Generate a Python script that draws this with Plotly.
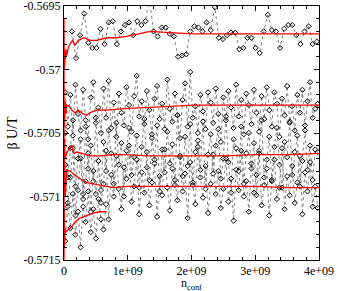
import plotly.graph_objects as go

# ---------------- data ----------------
# x in units of 1e9 configurations
top_x0, top_dx = 0.125, 0.064
top_vals = [-0.56970, -0.56991, -0.56973, -0.56956, -0.56979, -0.56983, -0.56983, -0.56968, -0.56980, -0.56963,
            -0.56962, -0.56980, -0.56970, -0.56965, -0.56963, -0.56973, -0.56962, -0.56965, -0.56962, -0.56945,
            -0.56970, -0.56974, -0.56967, -0.56967, -0.56972, -0.56974, -0.56990, -0.56989, -0.56988, -0.56970,
            -0.56966, -0.56967, -0.56970, -0.56963, -0.56969, -0.56951, -0.56975, -0.56976, -0.56973, -0.56971,
            -0.56971, -0.56984, -0.56983, -0.56975, -0.56975, -0.56983, -0.56987, -0.56970, -0.56957, -0.56969,
            -0.56970, -0.56983, -0.56968, -0.56965, -0.56965, -0.56973, -0.56980, -0.56970, -0.56966, -0.56980,
            -0.56978]

mid_x0, mid_dx = 0.02, 0.04
s2_vals = [-0.57018, -0.57045, -0.57020, -0.57052, -0.57012, -0.57035, -0.57048, -0.57016, -0.57040, -0.57055,
           -0.57022, -0.57010, -0.57042, -0.57030, -0.57050, -0.57015, -0.57038, -0.57009, -0.57046, -0.57026,
           -0.57053, -0.57019, -0.57034, -0.57044, -0.57014, -0.57028, -0.57049, -0.57021, -0.57005, -0.57037,
           -0.57025, -0.57043, -0.57017, -0.57032, -0.57051, -0.57023, -0.57013, -0.57039, -0.57027, -0.57047,
           -0.57008, -0.57031, -0.57041, -0.57019, -0.57036, -0.57054, -0.57024, -0.57011, -0.57045, -0.57002,
           -0.57038, -0.57029, -0.57050, -0.57020, -0.57033, -0.57047, -0.57018, -0.57026, -0.57042, -0.57015,
           -0.57035, -0.57057, -0.57022, -0.57040, -0.57017, -0.57030, -0.57046, -0.57012, -0.57037, -0.57024,
           -0.57051, -0.57019, -0.57028, -0.57043, -0.57016, -0.57034, -0.57049, -0.57021, -0.57039, -0.57014,
           -0.57032, -0.57045, -0.57018, -0.57027, -0.57053, -0.57023, -0.57036, -0.57013, -0.57041, -0.57029,
           -0.57048, -0.57020, -0.57034, -0.57016, -0.57044, -0.57025, -0.57010, -0.57038, -0.57031, -0.57027]
s3_vals = [-0.57050, -0.57085, -0.57062, -0.57040, -0.57092, -0.57070, -0.57055, -0.57098, -0.57045, -0.57078,
           -0.57060, -0.57088, -0.57038, -0.57072, -0.57095, -0.57057, -0.57080, -0.57048, -0.57066, -0.57090,
           -0.57042, -0.57075, -0.57058, -0.57100, -0.57064, -0.57046, -0.57083, -0.57069, -0.57052, -0.57093,
           -0.57061, -0.57039, -0.57077, -0.57087, -0.57054, -0.57071, -0.57044, -0.57096, -0.57063, -0.57081,
           -0.57049, -0.57074, -0.57059, -0.57091, -0.57036, -0.57068, -0.57084, -0.57053, -0.57076, -0.57043,
           -0.57089, -0.57065, -0.57056, -0.57079, -0.57041, -0.57094, -0.57067, -0.57051, -0.57082, -0.57060,
           -0.57047, -0.57086, -0.57070, -0.57037, -0.57073, -0.57097, -0.57055, -0.57062, -0.57080, -0.57045,
           -0.57090, -0.57066, -0.57050, -0.57078, -0.57058, -0.57099, -0.57064, -0.57040, -0.57085, -0.57071,
           -0.57053, -0.57088, -0.57061, -0.57046, -0.57075, -0.57093, -0.57057, -0.57069, -0.57042, -0.57083,
           -0.57065, -0.57052, -0.57092, -0.57072, -0.57048, -0.57079, -0.57060, -0.57087, -0.57063, -0.57065]
s4_vals = [-0.57075, -0.57108, -0.57085, -0.57062, -0.57115, -0.57095, -0.57070, -0.57102, -0.57088, -0.57066,
           -0.57112, -0.57080, -0.57098, -0.57072, -0.57105, -0.57090, -0.57064, -0.57118, -0.57083, -0.57100,
           -0.57068, -0.57094, -0.57110, -0.57077, -0.57086, -0.57060, -0.57104, -0.57092, -0.57071, -0.57114,
           -0.57081, -0.57097, -0.57065, -0.57107, -0.57089, -0.57074, -0.57116, -0.57084, -0.57099, -0.57063,
           -0.57093, -0.57111, -0.57078, -0.57087, -0.57103, -0.57069, -0.57096, -0.57082, -0.57117, -0.57073,
           -0.57091, -0.57106, -0.57061, -0.57085, -0.57101, -0.57076, -0.57113, -0.57090, -0.57067, -0.57098,
           -0.57080, -0.57109, -0.57094, -0.57070, -0.57104, -0.57086, -0.57119, -0.57079, -0.57095, -0.57064,
           -0.57100, -0.57088, -0.57112, -0.57074, -0.57097, -0.57083, -0.57066, -0.57107, -0.57091, -0.57078,
           -0.57115, -0.57087, -0.57071, -0.57102, -0.57093, -0.57062, -0.57110, -0.57084, -0.57099, -0.57076,
           -0.57105, -0.57089, -0.57068, -0.57114, -0.57081, -0.57096, -0.57073, -0.57108, -0.57092, -0.57109]
s5_vals = [-0.57135, -0.57105, -0.57125, -0.57098, -0.57130, -0.57112, -0.57140, -0.57108, -0.57120,
           -0.57096, -0.57128, -0.57110, -0.57133, -0.57102, -0.57118, -0.57126, -0.57106]

# running averages (red)
r1_x = [0, 0.004, 0.008, 0.012, 0.016, 0.02, 0.03, 0.042, 0.067, 0.094, 0.136, 0.173, 0.224, 0.314, 0.408,
        0.513, 0.67, 0.827, 0.984, 1.19, 1.35, 1.66, 2.02, 2.5, 3.0, 3.5, 4.0]
r1_y = [-0.56960, -0.57000, -0.56975, -0.56995, -0.56985, -0.56992, -0.56984, -0.56989, -0.56983, -0.56980,
        -0.56977, -0.56981, -0.56977, -0.56975, -0.56977, -0.56977, -0.56975, -0.56975, -0.56974, -0.56972,
        -0.56970, -0.56971, -0.56972, -0.56972, -0.56972, -0.56972, -0.56972]
r2_x = [0, 0.004, 0.008, 0.012, 0.02, 0.03, 0.042, 0.083, 0.12, 0.173, 0.224, 0.303, 0.356, 0.408, 0.513,
        0.67, 0.878, 1.24, 1.61, 2.03, 2.6, 3.2, 4.0]
r2_y = [-0.57000, -0.57045, -0.57015, -0.57040, -0.57025, -0.57035, -0.57028, -0.57029, -0.57032, -0.57034,
        -0.57032, -0.57035, -0.57036, -0.57034, -0.57032, -0.57032, -0.57031, -0.57030, -0.57029, -0.57028,
        -0.57028, -0.57028, -0.57028]
r3_x = [0, 0.004, 0.008, 0.015, 0.042, 0.083, 0.12, 0.157, 0.2, 0.28, 0.41, 0.565, 0.77, 0.98, 1.3, 1.66,
        2.08, 2.5, 3.02, 3.55, 4.0]
r3_y = [-0.57040, -0.57085, -0.57055, -0.57070, -0.57066, -0.57062, -0.57060, -0.57066, -0.57065, -0.57066,
        -0.57068, -0.57068, -0.57067, -0.57067, -0.57068, -0.57068, -0.57068, -0.57068, -0.57067, -0.57067,
        -0.57066]
r4_x = [0, 0.004, 0.008, 0.012, 0.02, 0.042, 0.094, 0.173, 0.25, 0.356, 0.46, 0.617, 0.77, 0.98, 1.24,
        1.51, 2.03, 2.5, 3.02, 3.5, 4.0]
r4_y = [-0.57140, -0.57060, -0.57120, -0.57085, -0.57100, -0.57079, -0.57080, -0.57083, -0.57086, -0.57089,
        -0.57090, -0.57092, -0.57093, -0.57092, -0.57092, -0.57092, -0.57092, -0.57092, -0.57092, -0.57093,
        -0.57093]
r5_x = [0, 0.004, 0.008, 0.015, 0.03, 0.067, 0.12, 0.173, 0.25, 0.356, 0.46, 0.565, 0.67]
r5_y = [-0.57150, -0.57110, -0.57140, -0.57125, -0.57128, -0.57126, -0.57124, -0.57120, -0.57117, -0.57115,
        -0.57113, -0.57112, -0.57112]

x_tickvals = [0, 1, 2, 3, 4]
x_ticktext = ["0", "1e+09", "2e+09", "3e+09", "4e+09"]
y_tickvals = [-0.5715, -0.571, -0.5705, -0.57, -0.5695]
y_ticktext = ["-0.5715", "-0.571", "-0.5705", "-0.57", "-0.5695"]
x_title = "n<sub>conf</sub>"
y_title = "β U/T"

# ---------------- figure ----------------
E9 = 1e9
FONT = "Liberation Serif, Times New Roman, serif"


def xs(x0, dx, n):
    return [(x0 + i * dx) * E9 for i in range(n)]


fig = go.Figure()

marker = dict(symbol="diamond-open", size=4, color="black", line=dict(width=1, color="black"))
dotline = dict(color="#808080", width=1, dash="dot")

for x0, dx, vals in [(top_x0, top_dx, top_vals), (mid_x0, mid_dx, s2_vals), (mid_x0, mid_dx, s3_vals),
                     (mid_x0, mid_dx, s4_vals), (mid_x0, mid_dx, s5_vals)]:
    fig.add_trace(go.Scatter(x=xs(x0, dx, len(vals)), y=vals, mode="lines+markers",
                             line=dotline, marker=marker, showlegend=False, cliponaxis=True))

for rx, ry in [(r1_x, r1_y), (r2_x, r2_y), (r3_x, r3_y), (r4_x, r4_y), (r5_x, r5_y)]:
    fig.add_trace(go.Scatter(x=[v * E9 for v in rx], y=ry, mode="lines",
                             line=dict(color="#ff0000", width=1.3), showlegend=False))

axis_common = dict(showline=True, linecolor="black", linewidth=1, mirror="allticks",
                   ticks="inside", ticklen=5, tickcolor="black", tickwidth=1,
                   showgrid=False, zeroline=False, ticklabeloverflow="allow",
                   tickfont=dict(family=FONT, size=12, color="black"))

fig.update_xaxes(range=[0, 4 * E9], tickvals=[v * E9 for v in x_tickvals], ticktext=x_ticktext,
                 minor=dict(ticks="inside", ticklen=3, dtick=0.2 * E9, tickcolor="black"),
                 **axis_common)
fig.update_yaxes(range=[-0.5715, -0.5695], tickvals=y_tickvals, ticktext=y_ticktext,
                 minor=dict(ticks="inside", ticklen=3, dtick=0.0001, tickcolor="black"),
                 title=dict(text=y_title, font=dict(family=FONT, size=14, color="black"), standoff=2),
                 **axis_common)

fig.add_annotation(text=x_title, xref="paper", yref="paper", x=0.5, y=0, xanchor="center",
                   yanchor="top", yshift=-15, showarrow=False, borderpad=0,
                   font=dict(family=FONT, size=12, color="black"))

fig.update_layout(width=338, height=291, margin=dict(l=64, r=19, t=6, b=31, autoexpand=False),
                  paper_bgcolor="white", plot_bgcolor="white",
                  font=dict(family=FONT, color="black"))

fig.write_html("out.html", post_script="document.body.style.margin='0';",
               config={"displayModeBar": False})
